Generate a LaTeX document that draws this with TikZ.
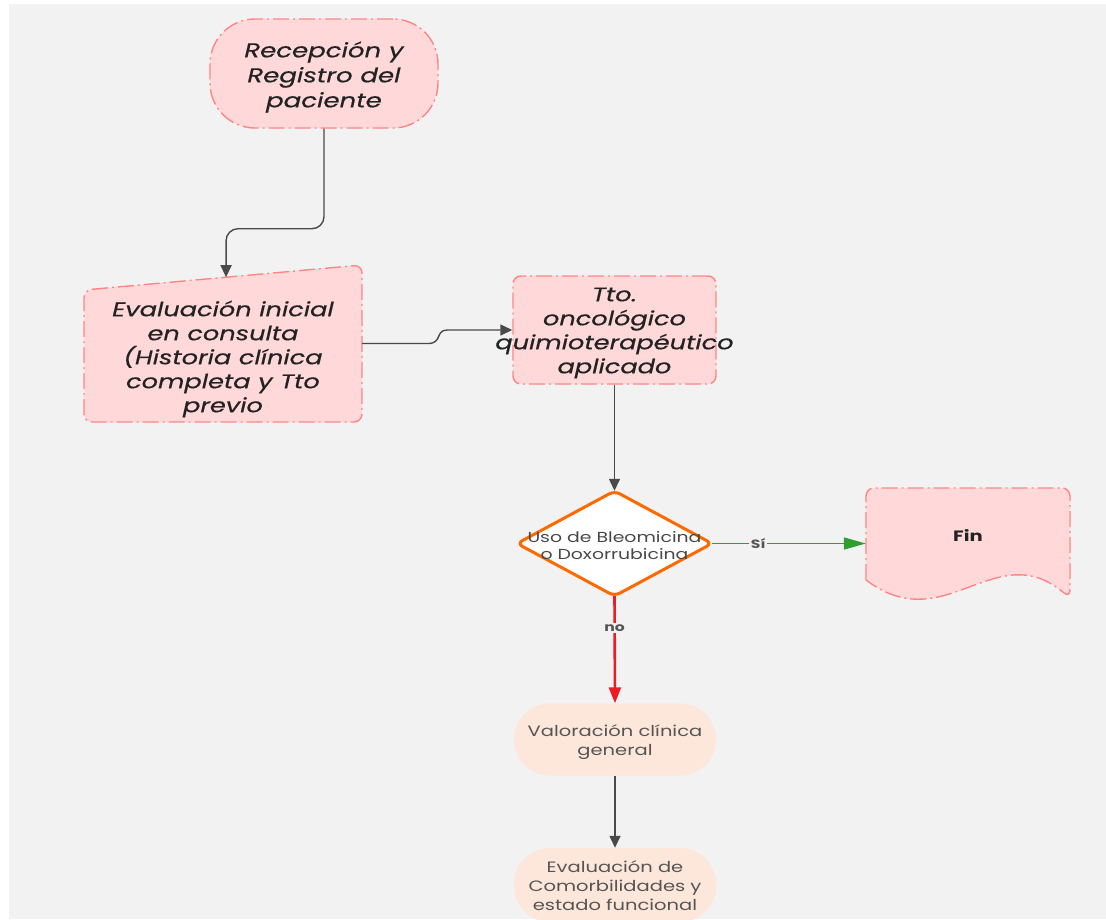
\documentclass[tikz,border=0pt]{standalone}
\usepackage{fontspec}
\setmainfont{Poppins}[FakeStretch=1.3]
\newfontfamily\headfont{Poppins}[FakeStretch=1.3, FakeBold=0.5]
\usetikzlibrary{arrows.meta,calc}

\definecolor{canvas}{HTML}{F2F2F2}
\definecolor{pinkfill}{HTML}{FFD9D9}
\definecolor{pinkline}{HTML}{FF8585}
\definecolor{peach}{HTML}{FDE6DA}
\definecolor{decline}{HTML}{FF6A00}
\definecolor{linkgray}{HTML}{4A4A4A}
\definecolor{yesgreen}{HTML}{2E9E2E}
\definecolor{nored}{HTML}{EC1C24}
\definecolor{inktext}{HTML}{222222}
\definecolor{softtext}{HTML}{555555}

\begin{document}
\begin{tikzpicture}[x=1pt,y=-1pt,
  pinkbox/.style={fill=pinkfill, draw=pinkline, line width=1.4pt,
    dash pattern=on 16pt off 4pt on 2pt off 4pt},
  bigtext/.style={font=\headfont\fontsize{19.7}{24}\selectfont\itshape, text=inktext, align=center},
  smalltext/.style={font=\fontsize{15}{19}\selectfont, text=softtext, align=center},
  peachbox/.style={fill=peach, draw=none, rounded corners=36pt,
    minimum width=202pt, minimum height=72pt},
  link/.style={draw=linkgray, line width=1.4pt, -{Triangle[length=12pt,width=11pt]}},
  edgelabel/.style={fill=canvas, inner sep=1.5pt, text=softtext,
    font=\fontsize{12}{14}\selectfont\bfseries}
]
\useasboundingbox (0,0) rectangle (1106,919);
\clip (0,0) rectangle (1106,919);
\fill[white] (0,0) rectangle (1106,919);
\fill[canvas] (9,4) rectangle (1106,919);

% start terminal
\node[pinkbox, rounded corners=45pt, minimum width=228pt, minimum height=109pt] (rec) at (324,73.5) {};
\node[bigtext, font=\headfont\fontsize{20}{25}\selectfont\itshape] (rectext) at (324,77)
  {Recepción y\\Registro del\\paciente};

% manual input block (slanted top edge)
\coordinate (evTL) at (84,290);
\coordinate (evTR) at (362,265);
\coordinate (evBR) at (362,422);
\coordinate (evBL) at (84,422);
\draw[pinkbox, rounded corners=8pt] (evTL) -- (evTR) -- (evBR) -- (evBL) -- cycle;
\node[minimum width=278pt, minimum height=157pt, inner sep=0pt] (ev) at (223,343.5) {};
\node[bigtext] (evtext) at (223,359)
  {Evaluación inicial\\en consulta\\(Historia clínica\\completa y Tto\\previo};
\coordinate (evin) at ($(evTL)!0.511!(evTR)$);

% treatment process
\node[pinkbox, rounded corners=8pt, minimum width=203pt, minimum height=108pt] (tto) at (614.5,330) {};
\node[bigtext] (ttotext) at (614.5,333)
  {Tto.\\oncológico\\quimioterapéutico\\aplicado};

% decision
\coordinate (dc) at (614.5,543.5);
\draw[fill=white, draw=decline, line width=3pt, rounded corners=6pt, line join=round]
  ($(dc)+(0,-52.5)$) -- ($(dc)+(97.5,0)$) -- ($(dc)+(0,52.5)$) -- ($(dc)+(-97.5,0)$) -- cycle;
\node[minimum width=195pt, minimum height=105pt, inner sep=0pt] (dec) at (dc) {};
\node[font=\fontsize{14.5}{16.5}\selectfont, text=softtext!85!black, align=center] (dectext)
  at ($(dc)+(0,2)$) {Uso de Bleomicina\\o Doxorrubicina};

% end document shape
\draw[pinkbox, rounded corners=8pt] (866,580) -- (866,488) -- (1070,488) -- (1070,598)
  [sharp corners] .. controls (995,535) and (945,640) .. (866,580) -- cycle;
\node[minimum width=204pt, minimum height=94pt, inner sep=0pt,
  font=\fontsize{15}{18}\selectfont\bfseries, text=inktext] (fin) at (968,535) {Fin};

% assessments
\node[peachbox] (val) at (615,739.5) {};
\node[smalltext] (valtext) at (615,742) {Valoración clínica\\general};
\node[peachbox, minimum height=74pt] (com) at (615,885) {};
\node[smalltext] (comtext) at (615,885.5)
  {Evaluación de\\Comorbilidades y\\estado funcional};

% connectors
\draw[link, rounded corners=12pt] (rec.south) -- ++(0,100) -| (evin);
\draw[link] (ev.east) -- ++(66,0) .. controls +(14,0) and +(-12,0) ..
  ($(tto.west)+(-65,0)$) -- (tto.west);
\draw[link] (tto.south) -- (dec.north);
\draw[draw=yesgreen, line width=1.6pt, -{Triangle[length=22pt,width=12pt]}]
  (dec.east) -- node[edgelabel, pos=0.3] {Sí} (dec.east -| fin.west);
\draw[draw=nored, line width=2.6pt, -{Triangle[length=16pt,width=12pt]}]
  (dec.south) -- node[edgelabel, pos=0.3] {no} (val.north);
\draw[link] (val.south) -- (com.north);
\end{tikzpicture}
\end{document}
